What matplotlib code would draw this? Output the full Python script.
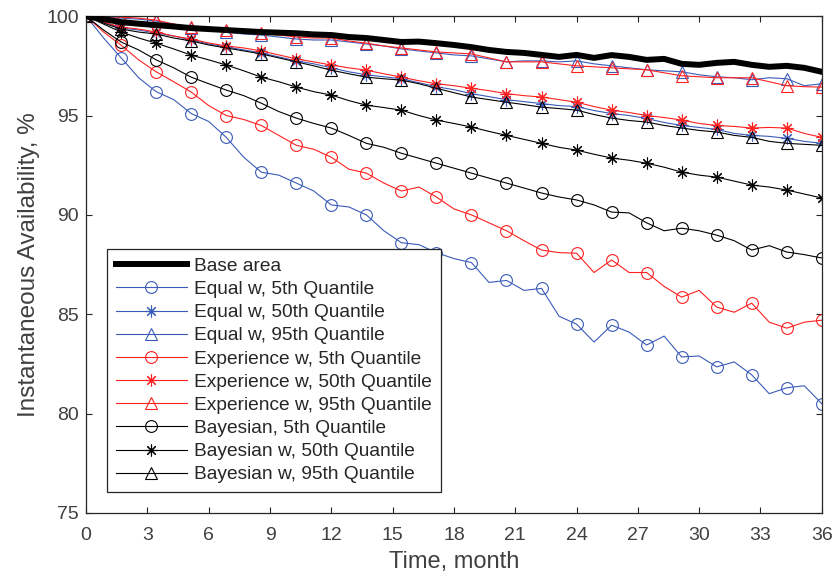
import numpy as np
import matplotlib
matplotlib.use("Agg")
import matplotlib.pyplot as plt

plt.rcParams['font.family'] = ['Liberation Sans', 'DejaVu Sans']

# time axis, months (markers sit on every second point)
months = np.linspace(0, 36, 43)

base_area = [100, 99.85, 99.7, 99.62, 99.55, 99.48, 99.4, 99.35, 99.3, 99.25, 99.2,
             99.17, 99.14, 99.08, 99.05, 98.95, 98.9, 98.8, 98.7, 98.72, 98.64, 98.55,
             98.44, 98.3, 98.2, 98.15, 98.05, 97.95, 98.05, 97.9, 98.04, 97.95, 97.8,
             97.85, 97.6, 97.55, 97.65, 97.7, 97.55, 97.45, 97.5, 97.4, 97.2]

equal_5 = [100, 98.9, 97.9, 96.9, 96.2, 95.8, 95.1, 94.7, 93.9, 92.9, 92.15,
           92.0, 91.6, 91.2, 90.5, 90.4, 90.0, 89.2, 88.6, 88.5, 88.1, 87.8,
           87.6, 86.6, 86.7, 86.2, 86.3, 84.9, 84.5, 83.6, 84.45, 84.1, 83.45,
           83.9, 82.85, 82.9, 82.35, 82.6, 81.95, 81.0, 81.3, 81.4, 80.5]
equal_50 = [100, 99.7, 99.4, 99.3, 99.15, 99.0, 98.8, 98.6, 98.45, 98.3, 98.15,
            97.95, 97.75, 97.6, 97.4, 97.2, 97.05, 96.95, 96.85, 96.65, 96.45, 96.3,
            96.1, 95.95, 95.8, 95.7, 95.6, 95.5, 95.45, 95.25, 95.1, 95.0, 94.85,
            94.65, 94.5, 94.4, 94.3, 94.1, 94.0, 93.95, 93.85, 93.7, 93.6]
equal_95 = [100, 99.95, 99.9, 99.85, 99.75, 99.6, 99.4, 99.3, 99.2, 99.1, 99.05,
            98.95, 98.85, 98.8, 98.8, 98.7, 98.6, 98.5, 98.35, 98.25, 98.15, 98.05,
            98.0, 97.85, 97.7, 97.75, 97.75, 97.7, 97.75, 97.6, 97.5, 97.4, 97.3,
            97.25, 97.2, 97.05, 96.95, 96.9, 96.8, 96.9, 96.85, 96.5, 96.6]

exper_5 = [100, 99.2, 98.54, 97.8, 97.2, 96.7, 96.18, 95.5, 95.0, 94.8, 94.5,
           94.0, 93.5, 93.3, 92.9, 92.3, 92.1, 91.6, 91.2, 91.4, 90.9, 90.3,
           90.0, 89.6, 89.2, 88.7, 88.23, 88.1, 88.07, 87.1, 87.73, 87.1, 87.1,
           86.4, 85.86, 86.2, 85.36, 85.1, 85.56, 84.6, 84.3, 84.6, 84.7]
exper_50 = [100, 99.7, 99.45, 99.35, 99.2, 99.0, 98.85, 98.65, 98.5, 98.4, 98.25,
            98.05, 97.85, 97.7, 97.54, 97.4, 97.28, 97.1, 96.93, 96.75, 96.6, 96.5,
            96.37, 96.25, 96.1, 96.0, 95.93, 95.8, 95.67, 95.45, 95.27, 95.15, 95.0,
            94.9, 94.77, 94.6, 94.5, 94.45, 94.37, 94.4, 94.37, 94.1, 93.9]
exper_95 = [100, 99.98, 99.95, 99.9, 99.8, 99.6, 99.45, 99.35, 99.3, 99.2, 99.15,
            99.05, 98.95, 98.9, 98.9, 98.75, 98.64, 98.5, 98.4, 98.3, 98.2, 98.15,
            98.1, 97.9, 97.7, 97.7, 97.7, 97.6, 97.5, 97.45, 97.4, 97.35, 97.3,
            97.15, 97.0, 96.95, 96.9, 96.9, 96.9, 96.7, 96.5, 96.45, 96.43]

bayes_5 = [100, 99.3, 98.7, 98.3, 97.8, 97.4, 96.93, 96.6, 96.28, 96.0, 95.62,
           95.2, 94.87, 94.6, 94.37, 94.0, 93.6, 93.4, 93.1, 92.85, 92.6, 92.35,
           92.1, 91.85, 91.6, 91.35, 91.1, 90.9, 90.75, 90.5, 90.14, 90.1, 89.6,
           89.2, 89.33, 89.2, 88.98, 88.7, 88.23, 88.45, 88.13, 88.0, 87.83]
bayes_50 = [100, 99.6, 99.2, 98.9, 98.64, 98.35, 98.04, 97.8, 97.54, 97.25, 96.93,
            96.7, 96.43, 96.2, 96.03, 95.75, 95.52, 95.4, 95.27, 95.0, 94.77, 94.6,
            94.42, 94.2, 94.0, 93.8, 93.6, 93.4, 93.26, 93.05, 92.86, 92.75, 92.6,
            92.4, 92.15, 92.0, 91.9, 91.7, 91.5, 91.4, 91.25, 91.05, 90.85]
bayes_95 = [100, 99.65, 99.35, 99.2, 99.1, 98.9, 98.75, 98.55, 98.4, 98.25, 98.1,
            97.9, 97.7, 97.5, 97.28, 97.1, 96.93, 96.85, 96.78, 96.6, 96.37, 96.15,
            95.93, 95.8, 95.67, 95.55, 95.42, 95.35, 95.27, 95.05, 94.87, 94.75, 94.67,
            94.5, 94.37, 94.25, 94.17, 94.0, 93.9, 93.7, 93.6, 93.55, 93.5]

BLUE = '#3a5bb8'
RED = '#ff2020'
BLACK = '#000000'
ASTER = (8, 2, 0)

series = [
    (equal_5, BLUE, 'o', 'Equal w, 5th Quantile'),
    (equal_50, BLUE, ASTER, 'Equal w, 50th Quantile'),
    (equal_95, BLUE, '^', 'Equal w, 95th Quantile'),
    (exper_5, RED, 'o', 'Experience w, 5th Quantile'),
    (exper_50, RED, ASTER, 'Experience w, 50th Quantile'),
    (exper_95, RED, '^', 'Experience w, 95th Quantile'),
    (bayes_5, BLACK, 'o', 'Bayesian, 5th Quantile'),
    (bayes_50, BLACK, ASTER, 'Bayesian w, 50th Quantile'),
    (bayes_95, BLACK, '^', 'Bayesian w, 95th Quantile'),
]

fig = plt.figure(figsize=(8.36, 5.77), dpi=100)
ax = fig.add_axes([0.103, 0.111, 0.880, 0.861])

ax.plot(months, base_area, color='black', lw=4.3, label='Base area', zorder=3)
for vals, col, mk, lab in series:
    ax.plot(months, vals, color=col, lw=0.8, marker=mk, markevery=2,
            markersize=8.5, markerfacecolor='none', markeredgecolor=col,
            markeredgewidth=0.8, label=lab)

ax.set_xlim(0, 36)
ax.set_ylim(75, 100)
ax.set_xticks(np.arange(0, 37, 3))
ax.set_yticks(np.arange(75, 101, 5))
ax.tick_params(direction='in', top=True, right=True, length=4, width=0.8,
               labelsize=14, colors='#262626', labelcolor='#404040')
ax.tick_params(axis='x', pad=10)
ax.tick_params(axis='y', pad=5)
for sp in ax.spines.values():
    sp.set_color('#262626')
    sp.set_linewidth(0.9)

ax.set_xlabel('Time, month', fontsize=17, color='#404040', labelpad=5)
ax.set_ylabel('Instantaneous Availability, %', fontsize=17.5, color='#404040', labelpad=5)

leg = ax.legend(loc='lower left', bbox_to_anchor=(0.0285, 0.042), borderaxespad=0,
                fontsize=13.8, handlelength=3.7, labelspacing=0.3, fancybox=False,
                framealpha=1, edgecolor='#262626', borderpad=0.45, handletextpad=0.4)
leg.get_frame().set_linewidth(0.9)
for t in leg.get_texts():
    t.set_color('#262626')

fig.savefig('out.png', dpi=100)
